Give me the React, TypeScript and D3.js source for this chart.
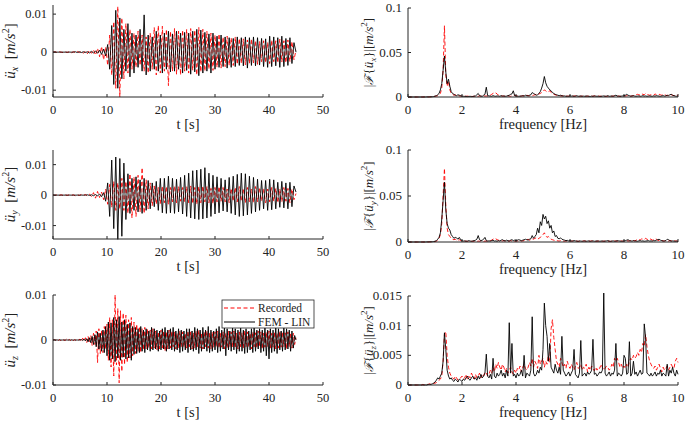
import * as d3 from "d3";

const T_STEP_XY = 0.375; // s
const T_STEP_Z = 0.25; // s
const F_STEP = 0.05; // Hz
const UNIT = 1e-4; // all values below are in 1e-4 m/s^2

// time histories, x direction
const uxRecorded = [
  0, 1, -1, 1, 0, -1, 1, -1,
  1, -2, 1, -1, 2, -1, 2, -3,
  3, -4, 5, -3, 6, -8, 10, -12,
  15, -20, 14, -35, 45, -60, 80, -95,
  120, -118, 90, -70, 75, -55, 60, -45,
  50, -40, 55, -35, 45, -50, 40, -55,
  50, -45, 65, -60, 70, -55, 68, -50,
  60, -88, 55, -50, 62, -58, 55, -60,
  58, -50, 60, -55, 62, -48, 58, -60,
  65, -52, 60, -50, 55, -45, 50, -48,
  45, -40, 48, -42, 40, -38, 42, -35,
  38, -35, 40, -32, 36, -30, 35, -33,
  32, -30, 35, -28, 30, -32, 28, -25,
  30, -28, 26, -30, 32, -25, 30, -28,
  34, -26, 30, -28, 32, -25, 28, -20, 5,
];
const uxFem = [
  0, 0, 0, 0, 0, 0, 0, 0,
  0, 0, 0, 1, -1, 1, -1, 1,
  -1, 1, -2, 2, -2, 3, -3, 5,
  -6, 8, -10, 20, -45, 70, -85, 110,
  -95, 90, -70, 60, -50, 75, -65, 50,
  -55, 45, -40, 60, -50, 98, -60, 45,
  -50, 40, -45, 55, -50, 45, -55, 50,
  -45, 55, -52, 48, -50, 55, -45, 50,
  -55, 52, -48, 50, -58, 55, -52, 60,
  -62, 58, -55, 52, -50, 48, -55, 50,
  -45, 42, -40, 45, -38, 40, -42, 38,
  -40, 36, -38, 40, -35, 38, -36, 40,
  -42, 38, -35, 40, -36, 38, -34, 36,
  -38, 35, -40, 42, -38, 40, -36, 38,
  -40, 42, -38, 36, -35, 38, -30, 25, 0,
];

// time histories, y direction
const uyRecorded = [
  1, -1, 1, -1, 1, -1, 1, -1,
  1, -1, 1, -2, 1, -1, 2, -1,
  2, -3, 3, -5, 8, -10, 12, -8,
  10, -15, 20, -30, 35, -40, 45, -50,
  40, -45, 55, -50, 45, -60, 70, -75,
  60, -70, 65, -55, 90, -60, 50, -45,
  40, -35, 30, -30, 25, -28, 30, -25,
  28, -30, 25, -22, 30, -25, 28, -20,
  25, -22, 28, -25, 30, -28, 25, -30,
  28, -25, 30, -22, 28, -25, 22, -28,
  25, -22, 28, -20, 25, -22, 20, -25,
  22, -20, 25, -22, 28, -20, 22, -25,
  25, -22, 20, -25, 28, -22, 25, -20,
  22, -25, 20, -22, 25, -20, 22, -25,
  20, -22, 25, -20, 22, -25, 20, -15, 5,
];
const uyFem = [
  0, 0, 0, 0, 0, 0, 0, 0,
  0, 0, 0, 0, 0, 0, 0, 0,
  0, 1, -1, 1, -2, 2, -3, 4,
  -5, 8, -20, 40, -70, 115, -110, 125,
  -145, 120, -135, 105, -80, 70, -60, 55,
  -50, 60, -55, 50, -60, 55, -50, 48,
  -45, 40, -38, 45, -50, 55, -58, 55,
  -60, 62, -58, 55, -60, 52, -55, 58,
  -62, 65, -70, 72, -75, 80, -78, 82,
  -80, 85, -78, 90, -75, 72, -70, 65,
  -62, 60, -58, 55, -52, 50, -55, 58,
  -60, 62, -65, 68, -70, 72, -68, 70,
  -65, 62, -60, 58, -55, 52, -50, 48,
  -45, 48, -50, 52, -48, 50, -45, 42,
  -40, 45, -42, 40, -45, 42, -38, 30, 10,
];

// time histories, z direction
const uzRecorded = [
  0, 1, -1, 2, -1, 1, -2, 1, 0, -1, 2, -1, 1, -1, 2, -2, 1, -1, 1, 0,
  2, -3, 4, -2, 5, -6, 8, -5, 10, -12, 15, -10, 20, -50, 25, -30, 22, -28, 30, -20,
  35, -45, 50, -60, 45, -80, 100, -55, 70, -95, 65, -70, 60, -55, 55, -50, 45, -40, 50, -35,
  40, -30, 35, -25, 30, -28, 25, -22, 28, -20, 25, -18, 22, -20, 25, -18, 20, -22, 18, -20,
  22, -18, 20, -25, 18, -20, 22, -18, 20, -15, 18, -20, 15, -18, 20, -15, 18, -16, 15, -18,
  20, -15, 18, -20, 16, -18, 20, -15, 22, -18, 16, -20, 18, -15, 20, -18, 15, -20, 18, -16,
  18, -15, 20, -18, 15, -16, 18, -20, 15, -18, 20, -15, 18, -16, 20, -18, 15, -20, 18, -15,
  16, -18, 20, -15, 18, -16, 15, -20, 18, -15, 16, -18, 20, -15, 18, -20, 15, -16, 18, -15,
  20, -18, 15, -16, 18, -20, 15, -18, 20, -16, 18, -15, 16, -20, 18, -15, 16, -18, 15, -10, 5,
];
const uzFem = [
  0, 0, 0, 0, 0, 0, 0, 0, 0, 0, 0, 0, 0, 0, 0, 0, 0, 0, 0, 0,
  0, 1, -1, 2, -2, 3, -4, 5, -6, 8, -10, 12, -15, 18, -20, 15, -25, 22, -28, 30,
  -35, 40, -45, 38, -42, 50, -48, 45, -40, 52, -45, 40, -38, 45, -42, 35, -40, 38, -45, 30,
  -32, 28, -30, 25, -28, 30, -25, 22, -28, 25, -22, 20, -25, 28, -22, 25, -20, 22, -25, 20,
  -22, 25, -20, 28, -25, 22, -20, 25, -22, 28, -25, 20, -22, 25, -28, 22, -25, 20, -22, 25,
  -28, 25, -22, 20, -25, 28, -22, 25, -30, 22, -25, 28, -20, 22, -25, 30, -28, 22, -25, 20,
  -22, 25, -28, 30, -25, 22, -20, 28, -35, 25, -22, 20, -25, 28, -22, 25, -30, 22, -25, 28,
  -25, 22, -30, 25, -28, 20, -22, 25, -28, 30, -25, 22, -20, 25, -28, 22, -25, 30, -35, 22,
  -42, 25, -28, 22, -25, 28, -30, 25, -22, 20, -25, 28, -22, 25, -20, 22, -25, 20, -18, 10, 0,
];

// Fourier amplitude spectra, 0..10 Hz
const fxRecorded = [
  0, 0, 0, 0, 0, 0, 0, 0, 0, 0, 0, 0, 1, 0, 1, 1, 2, 2, 3, 5,
  8, 10, 15, 30, 40, 100, 300, 800, 250, 120, 180, 80, 40, 30, 20, 25, 15, 20, 12, 10,
  10, 8, 12, 6, 10, 8, 5, 7, 6, 8, 10, 6, 8, 12, 10, 8, 15, 10, 12, 8,
  15, 20, 30, 40, 50, 45, 35, 20, 15, 10, 12, 8, 10, 15, 12, 10, 8, 12, 15, 20,
  15, 10, 12, 8, 10, 12, 15, 10, 20, 15, 12, 18, 15, 20, 25, 30, 20, 35, 40, 50,
  60, 80, 70, 55, 60, 70, 50, 40, 30, 25, 20, 15, 18, 12, 10, 15, 12, 10, 8, 10,
  12, 10, 8, 10, 12, 8, 10, 6, 8, 10, 12, 8, 6, 10, 8, 6, 10, 8, 12, 8,
  6, 8, 10, 8, 6, 10, 8, 6, 8, 10, 6, 8, 10, 12, 8, 6, 10, 8, 6, 10,
  12, 10, 15, 12, 10, 8, 12, 15, 20, 25, 30, 25, 20, 35, 30, 25, 40, 30, 25, 20,
  25, 30, 20, 35, 25, 20, 30, 25, 20, 30, 25, 20, 15, 20, 30, 25, 20, 15, 20, 25, 15,
];
const fxFem = [
  0, 0, 0, 0, 0, 0, 0, 0, 0, 0, 0, 0, 0, 0, 1, 1, 1, 2, 3, 5,
  10, 15, 25, 40, 80, 150, 300, 460, 280, 150, 200, 120, 60, 40, 30, 20, 15, 25, 20, 15,
  10, 8, 6, 8, 5, 6, 8, 5, 6, 10, 12, 25, 40, 15, 10, 8, 20, 30, 110, 15,
  12, 10, 8, 15, 10, 8, 12, 10, 8, 15, 10, 12, 8, 10, 15, 20, 30, 35, 70, 15,
  12, 10, 8, 10, 12, 15, 10, 20, 15, 12, 20, 25, 50, 40, 30, 20, 25, 40, 60, 100,
  150, 230, 160, 120, 100, 80, 70, 50, 40, 30, 25, 20, 15, 20, 15, 10, 12, 8, 10, 8,
  15, 10, 12, 8, 10, 15, 8, 10, 12, 8, 10, 8, 12, 10, 8, 6, 10, 8, 12, 10,
  8, 10, 6, 8, 10, 12, 8, 10, 15, 8, 10, 12, 8, 15, 20, 12, 10, 8, 10, 12,
  15, 20, 30, 20, 15, 10, 12, 15, 10, 8, 10, 12, 8, 10, 15, 10, 12, 8, 10, 12,
  10, 8, 12, 10, 15, 12, 10, 8, 12, 15, 10, 12, 20, 15, 25, 30, 20, 15, 10, 8, 10,
];
const fyRecorded = [
  0, 0, 0, 0, 0, 0, 0, 0, 0, 0, 0, 0, 0, 1, 0, 1, 1, 2, 2, 3,
  5, 8, 20, 40, 80, 200, 500, 800, 400, 150, 80, 60, 40, 30, 25, 30, 20, 15, 25, 15,
  10, 12, 8, 10, 6, 8, 10, 8, 6, 10, 8, 6, 10, 8, 12, 8, 6, 10, 8, 12,
  10, 15, 20, 30, 40, 35, 25, 20, 15, 10, 12, 15, 10, 12, 8, 10, 15, 10, 12, 8,
  10, 12, 8, 15, 10, 12, 15, 20, 25, 30, 20, 25, 35, 30, 40, 45, 30, 40, 50, 60,
  80, 100, 70, 50, 60, 40, 30, 25, 20, 15, 18, 12, 10, 15, 12, 10, 8, 12, 10, 8,
  10, 8, 12, 10, 8, 10, 6, 8, 10, 8, 12, 10, 8, 6, 10, 8, 12, 10, 8, 6,
  8, 10, 12, 8, 6, 10, 8, 12, 10, 8, 6, 10, 8, 12, 10, 8, 15, 10, 12, 8,
  10, 12, 15, 10, 12, 15, 20, 15, 12, 20, 25, 30, 20, 35, 30, 25, 40, 30, 25, 35,
  30, 20, 25, 35, 30, 20, 15, 20, 15, 12, 10, 15, 12, 10, 15, 12, 10, 15, 12, 10, 8,
];
const fyFem = [
  0, 0, 0, 0, 0, 0, 0, 0, 0, 0, 0, 0, 0, 0, 1, 1, 2, 2, 3, 5,
  8, 15, 30, 50, 100, 250, 450, 650, 350, 200, 150, 130, 80, 60, 40, 50, 45, 30, 50, 25,
  15, 10, 12, 8, 10, 15, 10, 8, 12, 15, 20, 30, 70, 25, 15, 20, 30, 50, 15, 10,
  12, 10, 15, 20, 10, 12, 8, 15, 10, 20, 25, 15, 12, 20, 15, 10, 20, 25, 15, 20,
  15, 20, 25, 20, 15, 20, 25, 30, 25, 20, 30, 35, 70, 40, 60, 80, 150, 100, 220, 180,
  300, 250, 280, 200, 230, 150, 180, 100, 120, 60, 70, 40, 35, 45, 30, 25, 20, 15, 18, 12,
  15, 12, 10, 15, 12, 10, 8, 12, 10, 8, 10, 12, 8, 10, 12, 8, 10, 12, 8, 10,
  12, 10, 8, 10, 12, 8, 10, 12, 15, 10, 8, 10, 12, 8, 10, 15, 12, 10, 8, 10,
  12, 15, 20, 25, 15, 12, 10, 15, 12, 10, 8, 12, 15, 10, 12, 8, 10, 12, 15, 10,
  12, 10, 15, 12, 20, 25, 30, 20, 15, 10, 12, 15, 30, 25, 15, 10, 12, 10, 8, 10, 8,
];
const fzRecorded = [
  0, 0, 0, 0, 0, 0, 0, 0, 0, 0, 0, 1, 0, 1, 1, 1, 2, 1, 2, 3,
  3, 4, 6, 8, 10, 15, 40, 85, 90, 50, 30, 20, 15, 12, 10, 15, 12, 8, 10, 12,
  15, 10, 12, 18, 10, 15, 12, 20, 15, 10, 18, 12, 15, 20, 12, 18, 15, 22, 20, 15,
  18, 25, 20, 30, 22, 35, 28, 38, 30, 25, 35, 30, 22, 28, 20, 25, 30, 22, 18, 25,
  20, 28, 25, 32, 22, 30, 35, 28, 25, 30, 38, 32, 45, 30, 40, 35, 28, 50, 35, 40,
  45, 30, 40, 35, 50, 38, 95, 110, 80, 60, 40, 35, 30, 45, 38, 30, 35, 28, 40, 32,
  28, 35, 30, 25, 32, 38, 28, 30, 35, 25, 30, 28, 35, 22, 30, 25, 32, 28, 24, 30,
  25, 30, 28, 35, 30, 25, 28, 32, 30, 25, 28, 35, 30, 45, 40, 45, 38, 30, 35, 28,
  32, 28, 35, 30, 40, 45, 42, 50, 45, 48, 55, 50, 60, 55, 70, 65, 85, 65, 50, 40,
  35, 30, 28, 32, 25, 30, 35, 28, 22, 30, 25, 28, 32, 25, 30, 35, 30, 28, 40, 45, 38,
];
const fzFem = [
  0, 0, 0, 0, 0, 0, 0, 0, 0, 0, 0, 0, 0, 0, 0, 1, 1, 1, 2, 3,
  5, 8, 12, 10, 15, 20, 40, 88, 60, 25, 15, 10, 12, 8, 6, 10, 8, 5, 10, 8,
  6, 10, 8, 12, 15, 10, 8, 12, 15, 10, 12, 8, 15, 10, 18, 12, 15, 20, 52, 15,
  12, 18, 10, 45, 15, 12, 20, 15, 18, 25, 15, 20, 12, 25, 15, 105, 20, 70, 15, 18,
  12, 20, 15, 18, 25, 15, 50, 12, 20, 18, 15, 25, 115, 20, 15, 18, 25, 20, 30, 25,
  60, 138, 100, 82, 40, 70, 30, 25, 20, 35, 25, 20, 30, 18, 82, 25, 20, 15, 18, 22,
  15, 20, 25, 60, 18, 15, 12, 20, 75, 15, 18, 20, 15, 22, 18, 20, 25, 77, 18, 20,
  15, 18, 22, 20, 25, 155, 20, 15, 18, 22, 15, 20, 18, 25, 70, 15, 20, 18, 15, 20,
  50, 45, 18, 20, 73, 15, 20, 40, 18, 22, 15, 20, 25, 18, 20, 103, 80, 20, 18, 15,
  20, 15, 18, 22, 15, 20, 18, 25, 15, 20, 18, 15, 35, 15, 25, 20, 30, 20, 15, 25, 18,
];

// ticks
const timeTicks = [0, 10, 20, 30, 40, 50];
const freqTicks = [0, 2, 4, 6, 8, 10];
const accTicks = [-0.01, 0, 0.01];
const accTickLabels = ["-0.01", "0", "0.01"];
const specTicksXY = [0, 0.05, 0.1];
const specTickLabelsXY = ["0", "0.05", "0.1"];
const specTicksZ = [0, 0.005, 0.01, 0.015];
const specTickLabelsZ = ["0", "0.005", "0.01", "0.015"];

const RED = "#ff0000";
const AXIS = "#262626";
const FONT = "Liberation Serif, Times New Roman, Times, serif";

type Series = { values: number[]; step: number; color: string; dash?: string };

type PanelProps = {
  x0: number;
  x1: number;
  yTop: number;
  yBottom: number;
  xDomain: [number, number];
  yDomain: [number, number];
  xTicks: number[];
  yTicks: number[];
  yTickLabels: string[];
  tickSize: number;
  xTitle: string;
  series: Series[];
  label: React.ReactNode;
};

function Panel(p: PanelProps) {
  const x = d3.scaleLinear().domain(p.xDomain).range([p.x0, p.x1]);
  const y = d3.scaleLinear().domain(p.yDomain).range([p.yBottom, p.yTop]);
  return (
    <g>
      {p.series.map((s, k) => {
        const line = d3
          .line<number>()
          .x((_, i) => x(i * s.step))
          .y((d) => y(d * UNIT));
        return (
          <path
            key={k}
            d={line(s.values) ?? ""}
            fill="none"
            stroke={s.color}
            strokeWidth={0.9}
            strokeDasharray={s.dash}
            strokeLinejoin="round"
          />
        );
      })}
      <line x1={p.x0} x2={p.x0} y1={p.yTop} y2={p.yBottom} stroke={AXIS} strokeWidth={1} />
      <line x1={p.x0} x2={p.x1} y1={p.yBottom} y2={p.yBottom} stroke={AXIS} strokeWidth={1} />
      {p.xTicks.map((t) => (
        <g key={"x" + t}>
          <line x1={x(t)} x2={x(t)} y1={p.yBottom} y2={p.yBottom - 3} stroke={AXIS} />
          <text x={x(t)} y={p.yBottom + 17} textAnchor="middle" fontSize={p.tickSize} fill="#222">
            {t}
          </text>
        </g>
      ))}
      {p.yTicks.map((t, i) => (
        <g key={"y" + t}>
          <line x1={p.x0} x2={p.x0 + 3} y1={y(t)} y2={y(t)} stroke={AXIS} />
          <text x={p.x0 - 6} y={y(t) + 4} textAnchor="end" fontSize={p.tickSize} fill="#222">
            {p.yTickLabels[i]}
          </text>
        </g>
      ))}
      <text x={(p.x0 + p.x1) / 2} y={p.yBottom + 32} textAnchor="middle" fontSize={14.5} fill="#222">
        {p.xTitle}
      </text>
      {p.label}
    </g>
  );
}

function AccLabel({ axis, x, y }: { axis: string; x: number; y: number }) {
  return (
    <text transform={`translate(${x},${y}) rotate(-90)`} textAnchor="middle" fontSize={15} fill="#222">
      <tspan fontStyle="italic">ü</tspan>
      <tspan fontStyle="italic" fontSize={10} dy={3}>{axis}</tspan>
      <tspan dy={-3}>{"\u2002["}</tspan>
      <tspan fontStyle="italic">m/s</tspan>
      <tspan fontSize={10} dy={-6}>2</tspan>
      <tspan dy={6}>]</tspan>
    </text>
  );
}

function SpecLabel({ axis, x, y }: { axis: string; x: number; y: number }) {
  return (
    <text transform={`translate(${x},${y}) rotate(-90)`} textAnchor="middle" fontSize={13} fill="#222">
      <tspan>|</tspan>
      <tspan fontStyle="italic" fontSize={12}>{"\u2131"}</tspan>
      <tspan>{"{"}</tspan>
      <tspan fontStyle="italic">ü</tspan>
      <tspan fontStyle="italic" fontSize={9} dy={3}>{axis}</tspan>
      <tspan dy={-3}>{"}|["}</tspan>
      <tspan fontStyle="italic">m/s</tspan>
      <tspan fontSize={9} dy={-6}>2</tspan>
      <tspan dy={6}>]</tspan>
    </text>
  );
}

const rows = [
  {
    axis: "x",
    timeRec: uxRecorded,
    timeFem: uxFem,
    tStep: T_STEP_XY,
    specRec: fxRecorded,
    specFem: fxFem,
    left: { yTop: 5, yBottom: 97, domain: [-0.0118, 0.0124] as [number, number] },
    right: { yTop: 8, yBottom: 97, domain: [0, 0.1] as [number, number] },
    specTicks: specTicksXY,
    specLabels: specTickLabelsXY,
  },
  {
    axis: "y",
    timeRec: uyRecorded,
    timeFem: uyFem,
    tStep: T_STEP_XY,
    specRec: fyRecorded,
    specFem: fyFem,
    left: { yTop: 150, yBottom: 239, domain: [-0.0144, 0.0148] as [number, number] },
    right: { yTop: 150, yBottom: 242, domain: [0, 0.1] as [number, number] },
    specTicks: specTicksXY,
    specLabels: specTickLabelsXY,
  },
  {
    axis: "z",
    timeRec: uzRecorded,
    timeFem: uzFem,
    tStep: T_STEP_Z,
    specRec: fzRecorded,
    specFem: fzFem,
    left: { yTop: 295, yBottom: 385, domain: [-0.01, 0.01] as [number, number] },
    right: { yTop: 296, yBottom: 385, domain: [0, 0.015] as [number, number] },
    specTicks: specTicksZ,
    specLabels: specTickLabelsZ,
  },
];

export default function App() {
  return (
    <svg
      width={685}
      height={424}
      style={{ position: "absolute", left: 0, top: 0, background: "#fff", fontFamily: FONT }}
    >
      {rows.map((r) => (
        <g key={r.axis}>
          <Panel
            x0={53}
            x1={323}
            yTop={r.left.yTop}
            yBottom={r.left.yBottom}
            xDomain={[0, 50]}
            yDomain={r.left.domain}
            xTicks={timeTicks}
            yTicks={accTicks}
            yTickLabels={accTickLabels}
            tickSize={12.5}
            xTitle="t [s]"
            series={[
              { values: r.timeRec, step: r.tStep, color: RED, dash: "4,2.5" },
              { values: r.timeFem, step: r.tStep, color: "#000" },
            ]}
            label={<AccLabel axis={r.axis} x={15} y={(r.left.yTop + r.left.yBottom) / 2} />}
          />
          <Panel
            x0={408}
            x1={678}
            yTop={r.right.yTop}
            yBottom={r.right.yBottom}
            xDomain={[0, 10]}
            yDomain={r.right.domain}
            xTicks={freqTicks}
            yTicks={r.specTicks}
            yTickLabels={r.specLabels}
            tickSize={13}
            xTitle="frequency [Hz]"
            series={[
              { values: r.specRec, step: F_STEP, color: RED, dash: "4,2.5" },
              { values: r.specFem, step: F_STEP, color: "#000" },
            ]}
            label={<SpecLabel axis={r.axis} x={373} y={(r.right.yTop + r.right.yBottom) / 2} />}
          />
        </g>
      ))}
      {/* legend */}
      <g>
        <rect x={222} y={300} width={92} height={28} fill="#fff" stroke={AXIS} strokeWidth={0.8} />
        <line x1={224} x2={255} y1={308} y2={308} stroke={RED} strokeDasharray="4,2.5" />
        <text x={258} y={312} fontSize={11.5} fill="#222">Recorded</text>
        <line x1={224} x2={255} y1={322} y2={322} stroke="#000" />
        <text x={258} y={326} fontSize={11.5} fill="#222">FEM - LIN</text>
      </g>
    </svg>
  );
}
